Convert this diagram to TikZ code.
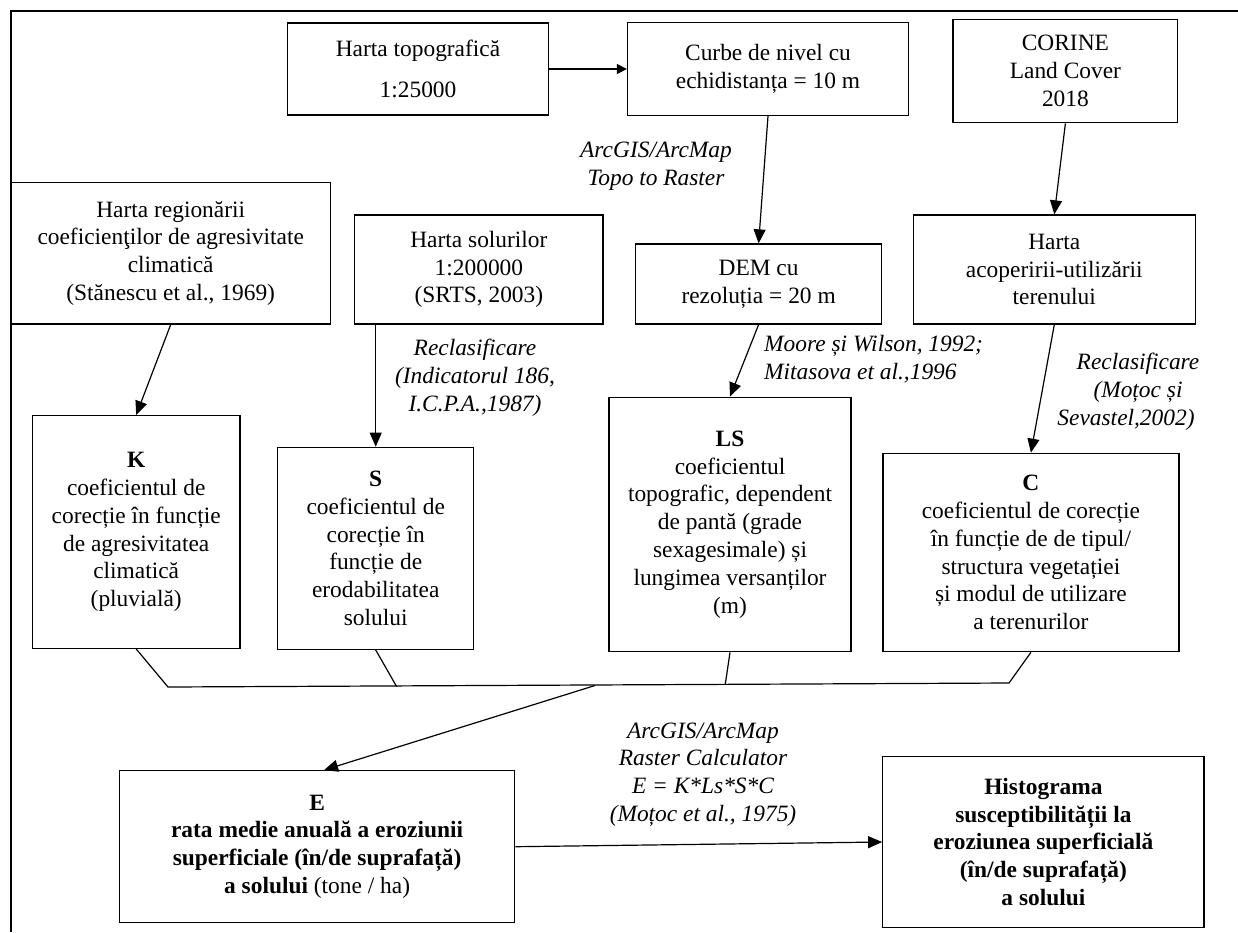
\documentclass[tikz,border=0pt]{standalone}
\usepackage{fontspec}
\setmainfont{Liberation Serif}
\usetikzlibrary{arrows.meta}
\newcommand{\myfs}{\fontsize{23.4}{27.8}\selectfont}
\begin{document}
\begin{tikzpicture}[x=1pt,y=-1pt,
  box/.style={draw,line width=1.3pt,inner sep=0pt,align=center,font=\myfs},
  lbl/.style={inner sep=0pt,align=center,font=\myfs\itshape},
  conn/.style={line width=1.2pt},
  arr/.style={line width=1.2pt,-{Triangle[length=14pt,width=12pt]}},
  sarr/.style={line width=1.2pt,-{Triangle[length=10pt,width=10pt]}}]
\useasboundingbox (0,0) rectangle (1238,932);
% frame
\draw[line width=1.5pt] (11,932) -- (11,11) -- (1238,11);
% top row
\node[box,minimum width=261pt,minimum height=92pt] (topo) at (418,69) {Harta topografică\\[13pt]1:25000};
\node[box,minimum width=281pt,minimum height=92.6pt] (curbe) at (768,69) {Curbe de nivel cu\\echidistanța = 10 m};
\node[box,minimum width=224.7pt,minimum height=103.4pt] (corine) at (1065.4,71) {CORINE\\Land Cover\\2018};
% second row
\node[box,minimum width=320pt,minimum height=141.3pt] (reg) at (170.7,253.3) {Harta regionării\\coeficienţilor de agresivitate\\climatică\\(Stănescu et al., 1969)};
\node[box,minimum width=248.3pt,minimum height=109pt] (sol) at (478.9,269.5) {Harta solurilor\\1:200000\\(SRTS, 2003)};
\node[box,minimum width=245.7pt,minimum height=80pt] (dem) at (758.6,284) {DEM cu\\rezoluția = 20 m};
\node[box,minimum width=282pt,minimum height=109pt] (acop) at (1054.3,269.5) {Harta\\acoperirii-utilizării\\terenului};
% coefficient boxes
\node[box,minimum width=207.6pt,minimum height=232.6pt] (K) at (136.2,532) {\textbf{K}\\coeficientul de\\corecție în funcție\\de agresivitatea\\climatică\\(pluvială)};
\node[box,minimum width=196pt,minimum height=202pt] (S) at (375.7,548.3) {\textbf{S}\\coeficientul de\\corecție în\\funcție de\\erodabilitatea\\solului};
\node[box,minimum width=242pt,minimum height=254.4pt] (LS) at (730,524.5) {\textbf{LS}\\coeficientul\\topografic, dependent\\de pantă (grade\\sexagesimale) și\\lungimea versanților\\(m)};
\node[box,minimum width=296pt,minimum height=198.4pt] (C) at (1030.9,552.5) {\textbf{C}\\coeficientul de corecție\\în funcție de de tipul/\\structura vegetației\\și modul de utilizare\\a terenurilor};
% bottom row
\node[box,minimum width=395.4pt,minimum height=152pt] (E) at (317.1,846.7) {\textbf{E}\\\textbf{rata medie anuală a eroziunii}\\\textbf{superficiale (în/de suprafață)}\\\textbf{a solului} (tone / ha)};
\node[box,minimum width=321.2pt,minimum height=170.6pt,font=\myfs\bfseries] (hist) at (1043.4,842) {Histograma\\susceptibilității la\\eroziunea superficială\\(în/de suprafață)\\a solului};
% labels
\node[lbl] (ltopo) at (656,166) {ArcGIS/ArcMap\\Topo to Raster};
\node[lbl] (lrecs) at (475,378) {Reclasificare\\(Indicatorul 186,\\I.C.P.A.,1987)};
\node[lbl,anchor=west,align=left] (lmoore) at (764,359) {Moore și Wilson, 1992;\\Mitasova et al.,1996};
\node[lbl] (lrecc) at (1138,392) {Reclasificare\\(Moțoc și\\Sevastel,2002)\hspace*{24pt}};
\node[lbl] (lcalc) at (703,774.5) {ArcGIS/ArcMap\\Raster Calculator\\E = K*Ls*S*C\\(Moțoc et al., 1975)};
% connectors
\draw[sarr] (topo.east) -- (curbe.west);
\draw[arr] (curbe.south) -- (dem.north);
\draw[arr] (corine.south) -- (acop.north);
\draw[arr] (reg.south) -- (K.north);
\draw[arr] (S.north |- sol.south) -- (S.north);
\draw[arr] (dem.south) -- (LS.north);
\draw[arr] (acop.south) -- (C.north);
% merge
\coordinate (mK) at (168,687);
\coordinate (mS) at (396.6,686.5);
\coordinate (mLS) at (725.3,684);
\coordinate (mC) at (1009,683);
\coordinate (mE) at (595,685.5);
\draw[conn] (K.south) -- (mK) -- (mC) -- (C.south);
\draw[conn] (S.south) -- (mS);
\draw[conn] (LS.south) -- (mLS);
\draw[arr] (mE) -- ([xshift=7pt]E.north);
\draw[arr] (E.east) -- (hist.west);
\end{tikzpicture}
\end{document}
